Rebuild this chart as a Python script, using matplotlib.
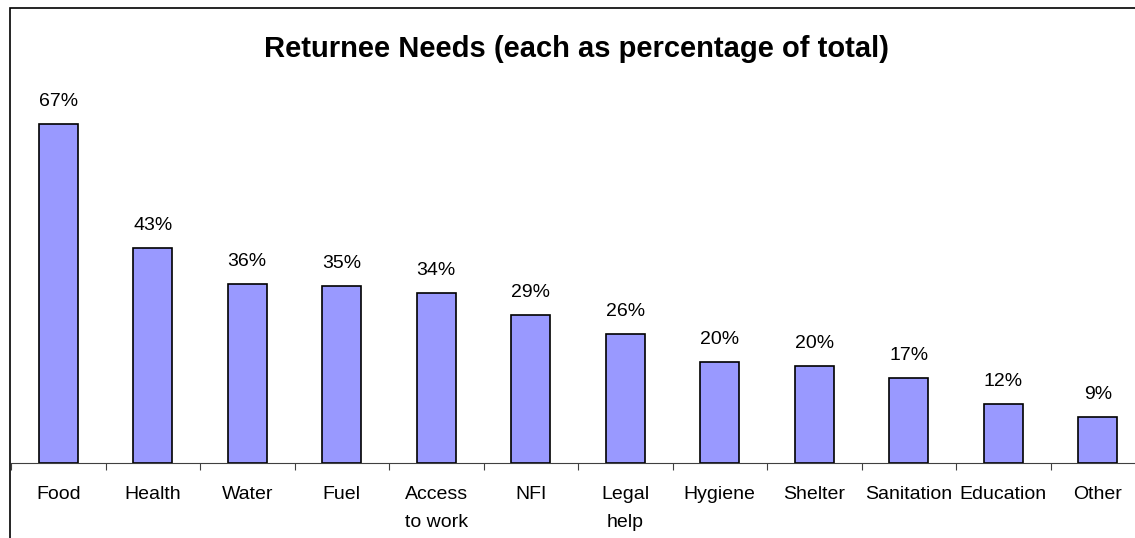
import matplotlib.pyplot as plt
from matplotlib.patches import Rectangle

plt.rcParams["font.family"] = ["Liberation Sans", "DejaVu Sans"]

# Data
categories = ["Food", "Health", "Water", "Fuel", "Access\nto work", "NFI",
              "Legal\nhelp", "Hygiene", "Shelter", "Sanitation", "Education", "Other"]
values = [67.0, 42.5, 35.4, 35.0, 33.6, 29.2, 25.5, 20.0, 19.2, 16.8, 11.7, 9.1]
labels = ["67%", "43%", "36%", "35%", "34%", "29%", "26%", "20%", "20%", "17%", "12%", "9%"]

W, H = 1135, 538
fig = plt.figure(figsize=(W / 100, H / 100), dpi=100)

# outer frame (runs off the right and bottom edges)
fig.patches.append(Rectangle((10 / W, -0.1), 1.2, (H - 8) / H + 0.1,
                             transform=fig.transFigure, fill=False,
                             edgecolor="black", linewidth=1.2, zorder=0))

ax = fig.add_axes([11 / W, 75 / H, 1134 / W, 405 / H])
x = range(len(categories))
ax.bar(x, values, width=0.41, color="#9999FF", edgecolor="black", linewidth=1.2)

for xi, v, lab in zip(x, values, labels):
    ax.annotate(lab, (xi, v), xytext=(0, 10), textcoords="offset points",
                ha="center", va="bottom", fontsize=14)

ax.set_xlim(-0.5, 11.5)
ax.set_ylim(0, 80)
ax.set_yticks([])
for s in ["top", "right", "left"]:
    ax.spines[s].set_visible(False)
ax.spines["bottom"].set_color("#404040")

ax.set_xticks([i - 0.5 for i in range(len(categories) + 1)], minor=False)
ax.set_xticklabels([])
ax.tick_params(axis="x", which="major", length=5, direction="out", color="#404040")
ax.set_xticks(list(x), minor=True)
ax.set_xticklabels(categories, minor=True, fontsize=14, linespacing=1.85, va="top")
ax.tick_params(axis="x", which="minor", length=0, pad=16.5)

fig.text(577 / W, 1 - 49 / H, "Returnee Needs (each as percentage of total)",
         ha="center", va="center", fontsize=21, fontweight="bold")

fig.savefig("out.png", dpi=100)
